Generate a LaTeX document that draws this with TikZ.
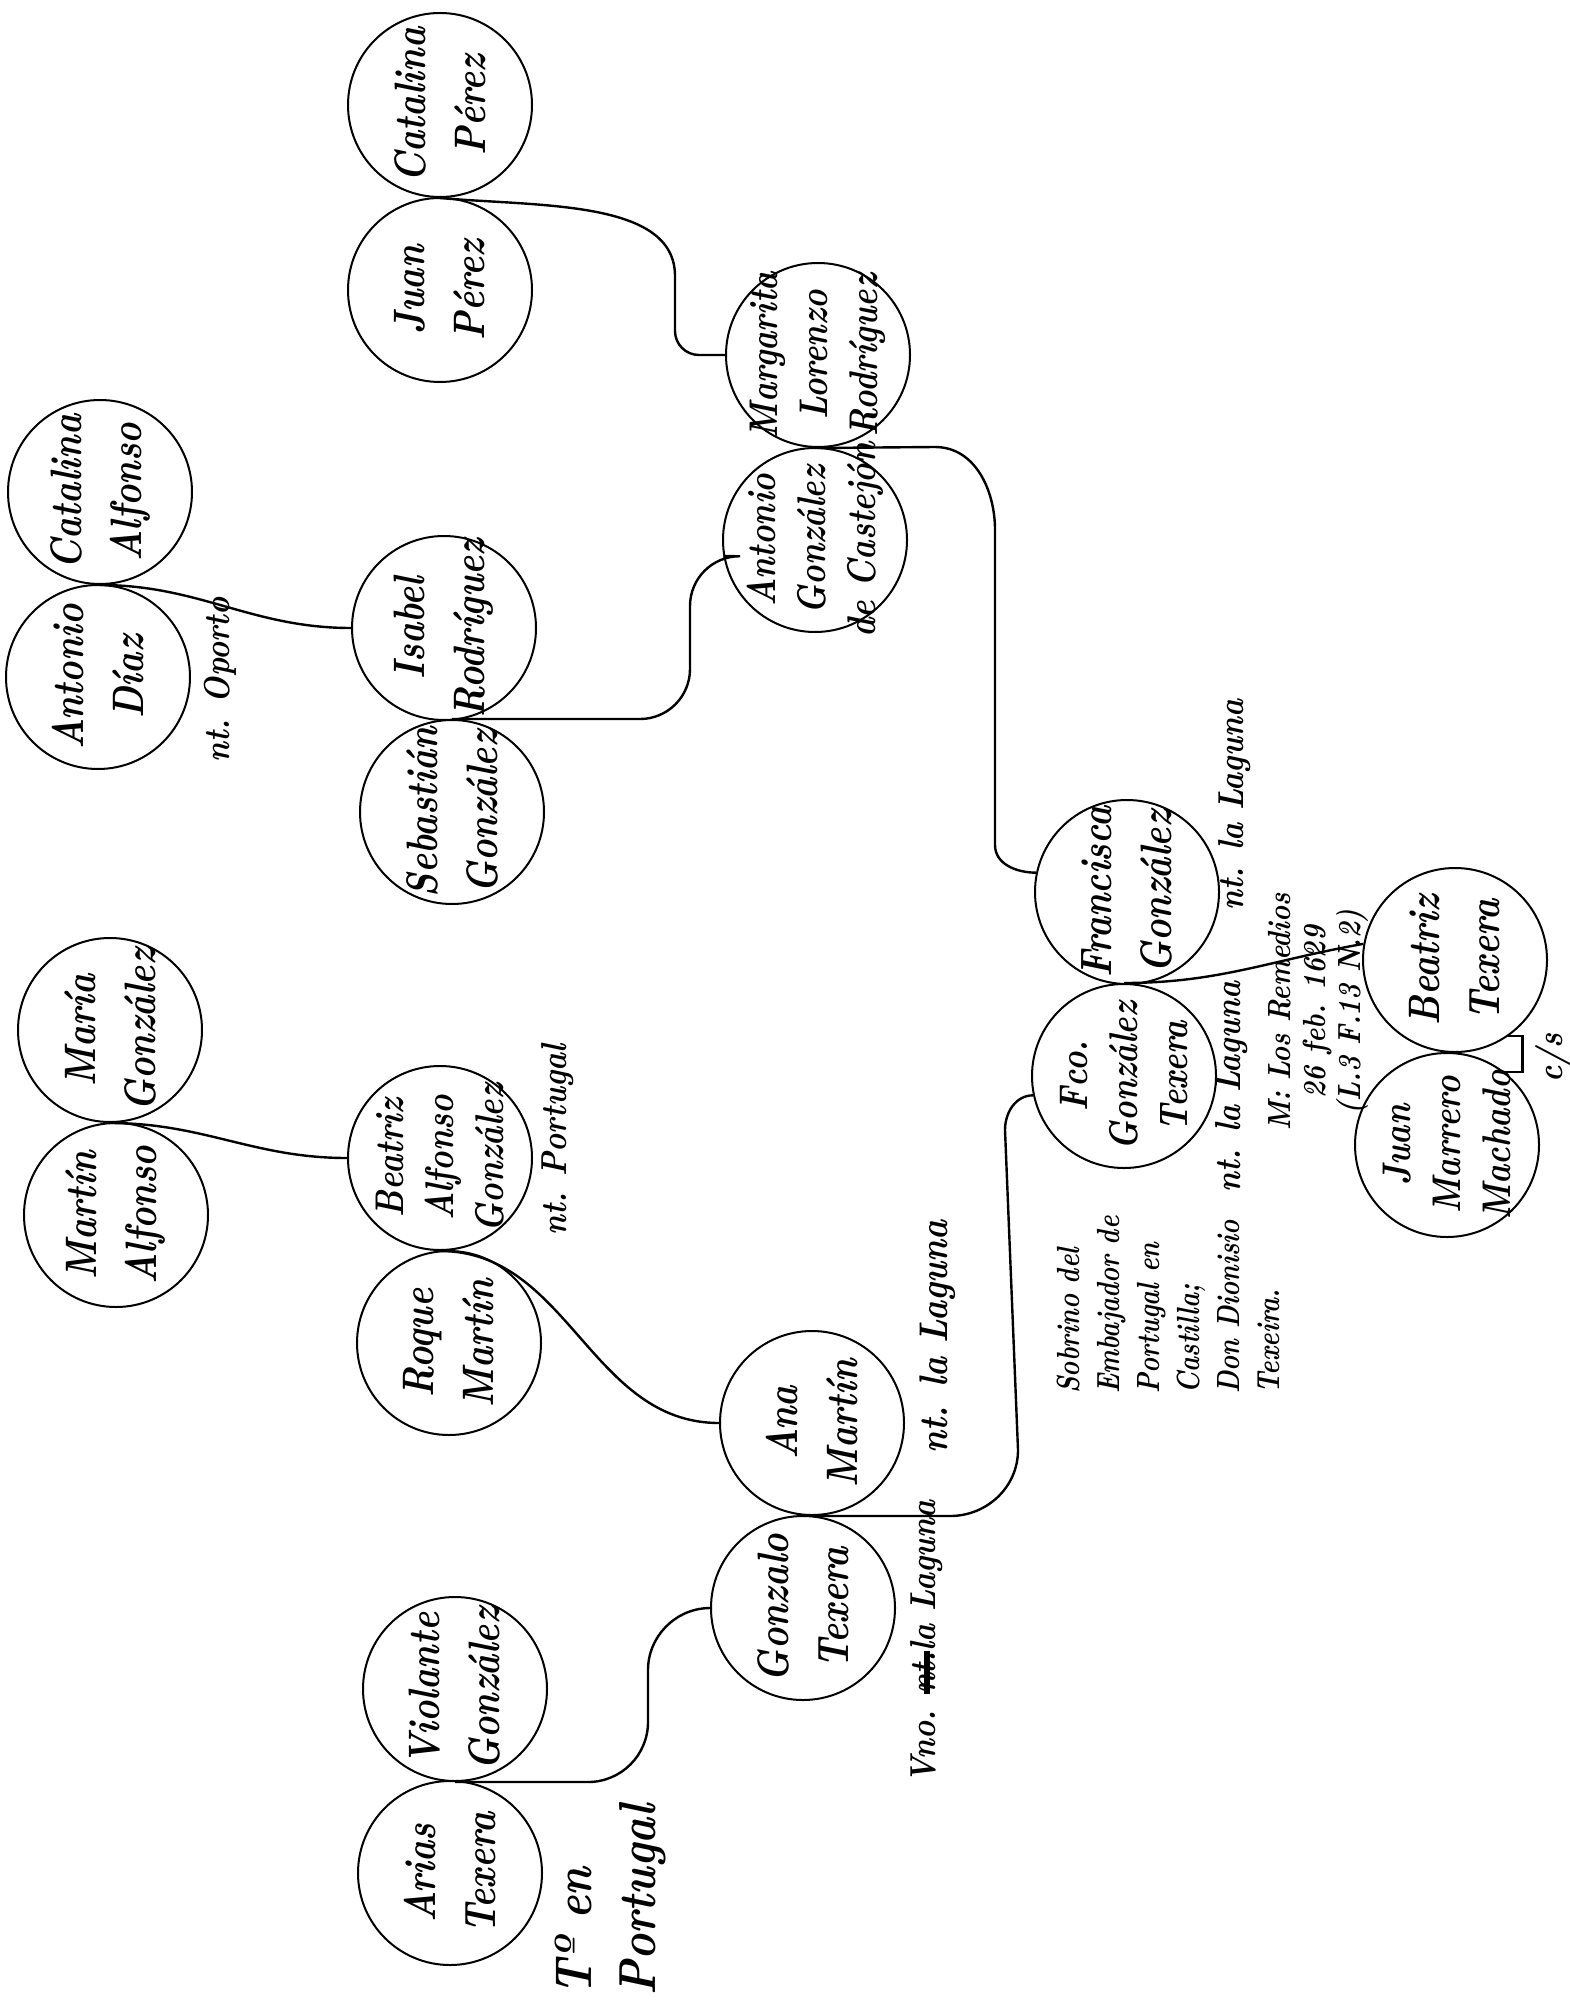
\documentclass[tikz,border=0pt]{standalone}
\usepackage{amsmath}
\usepackage{tikz}

\tikzset{
  person/.style={circle, draw, line width=1pt, minimum size=92pt, inner sep=0pt},
  who/.style={rotate=90, xscale=0.82, align=center, font=\fontsize{22}{30}\selectfont\bfseries\itshape},
  three/.style={font=\fontsize{20}{25}\selectfont\bfseries\itshape},
  note/.style={rotate=90, xscale=0.85, align=left, font=\fontsize{18}{20}\selectfont\bfseries\itshape},
  tie/.style={line width=1.2pt}
}

\newcommand{\person}[4][]{%
  \node[person] (#2) at (#3) {};
  \node[who,#1] (#2n) at (#2) {#4};}
\newcommand{\struck}[1]{\setbox0\hbox{#1}\rlap{\rule[0.15em]{\wd0}{3pt}}\box0}

\begin{document}
\begin{tikzpicture}[x=0.5pt, y=-0.5pt]
        \useasboundingbox (0,0) rectangle (1569,2011);

        \person{cp}{440,105}{Catalina\\Pérez}
        \person{jp}{440,290}{Juan\\Pérez}
        \person{ca}{100,492}{Catalina\\Alfonso}
        \person{ad}{98,677}{Antonio\\Díaz}
        \person{ir}{444,628}{Isabel\\Rodríguez}
        \person{sg}{452,812}{Sebastián\\González}
        \person[three]{ml}{818,355}{Margarita\\Lorenzo\\Rodríguez}
        \person[three]{ag}{815,540}{Antonio\\González\\de Castejón}
        \person{mg}{110,1030}{María\\González}
        \person{ma}{116,1215}{Martín\\Alfonso}
        \person[three]{ba}{440,1158}{Beatriz\\Alfonso\\González}
        \person{rm}{449,1343}{Roque\\Martín}
        \person{am}{812,1423}{Ana\\Martín}
        \person{gt}{803,1608}{Gonzalo\\Texera}
        \person{vg}{455,1689}{Violante\\González}
        \person{at}{450,1873}{Arias\\Texera}
        \person{fg}{1127,892}{Francisca\\González}
        \person[three]{fc}{1124,1076}{Fco.\\González\\Texera}
        \person{bt}{1455,960}{Beatriz\\Texera}
        \person[three]{jm}{1447,1145}{Juan\\Marrero\\Machado}

        \draw[tie, rounded corners=12] (cp.south) to[out=-5,in=90] (675,300) |- (ml.west);
        \draw[tie] (ca.south) to[out=0,in=180] (ir.west);
        \draw[tie, rounded corners=25] (sg.north) -| (690,556) -- (ag.190);
        \draw[tie] (ml.south) -- (935,447) to[out=0,in=90] (995,530) -- (995,845) to[out=-90,in=180] (fg.168);
        \draw[tie] (mg.south) to[out=0,in=180] (ba.west);
        \draw[tie] (ba.south) to[out=0,in=180] (am.west);
        \draw[tie, rounded corners=30] (vg.south) -| (648,1610) -- (gt.west);
        \draw[tie] (am.south) -- (950,1516) to[out=0,in=-90] (1018,1450) -- (1005,1130) to[out=90,in=180] (fc.192);
        \draw[tie] (fc.north) to[out=0,in=190] (bt.170);
        \draw[tie] (bt.-55) -- ++(14,0) |- (jm.52);

        \node[note] (n1) at (220,680) {nt. Oporto};
        \node[note] (n2) at (558,1140) {nt. Portugal};
        \node[note, font=\fontsize{26}{32}\selectfont\bfseries\itshape] (n3) at (610,1900) {Tº en\\Portugal};
        \node[note, font=\fontsize{20}{22}\selectfont\bfseries\itshape] (n4) at (938,1337) {nt. la Laguna};
        \node[note] (n5) at (927,1642) {Vno. \struck{nt.} la Laguna};
        \node[note] (n6) at (1235,805) {nt. la Laguna};
        \node[note] (n7) at (1232,1087) {nt. la Laguna};
        \node[note, align=center, font=\fontsize{16}{17.5}\selectfont\bfseries\itshape] (n8) at (1318,1012) {M: Los Remedios\\26 feb. 1629\\(L.3 F.13 N.2)};
        \node[note, xscale=0.94, font=\fontsize{16}{20}\selectfont\bfseries\itshape] (n9) at (1168,1305) {Sobrino del\\Embajador de\\Portugal en\\Castilla;\\Don Dionisio\\Texeira.};
        \node[note] (n10) at (1553,1058) {c/s};
    \end{tikzpicture}
\end{document}
